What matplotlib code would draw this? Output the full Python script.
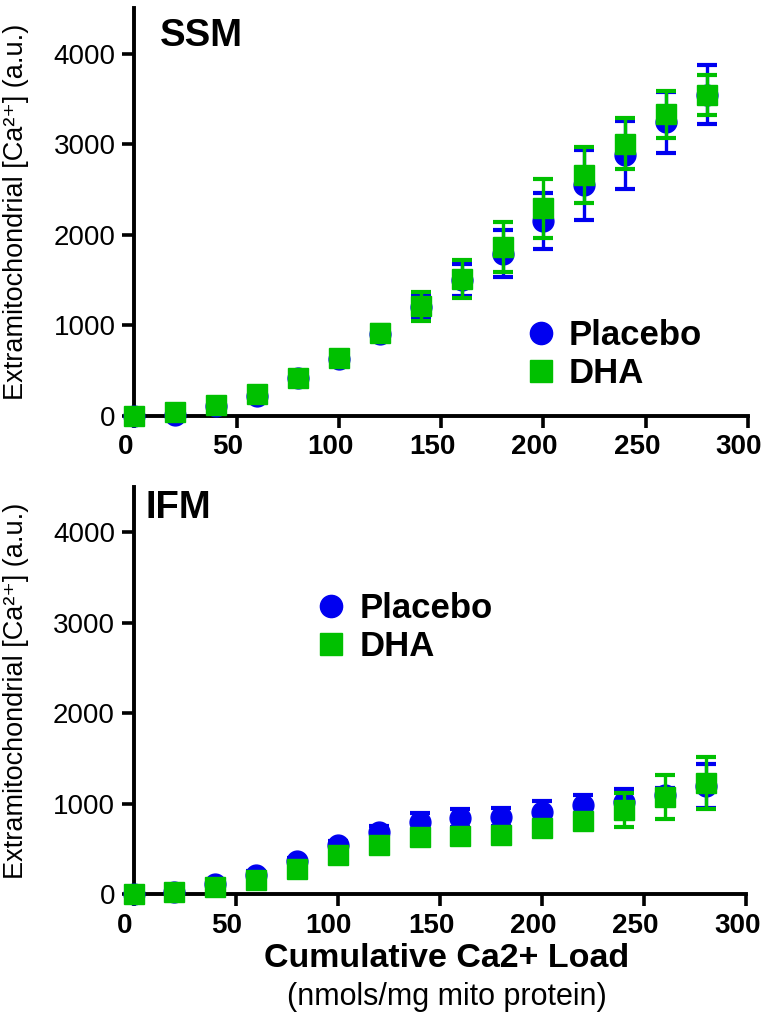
import matplotlib
matplotlib.use("Agg")
import matplotlib.pyplot as plt
import matplotlib.transforms as mtransforms
from matplotlib.lines import Line2D

# cumulative Ca2+ load (nmols/mg mito protein)
load = [0, 20, 40, 60, 80, 100, 120, 140, 160, 180, 200, 220, 240, 260, 280]

# SSM panel
ssm_placebo = [0, 10, 110, 220, 420, 630, 900, 1200, 1500, 1790, 2150, 2550, 2875, 3240, 3546]
ssm_placebo_err = [20, 30, 40, 40, 50, 60, 80, 120, 175, 255, 305, 385, 375, 340, 325]
ssm_dha = [0, 40, 120, 240, 420, 640, 910, 1210, 1513, 1861, 2291, 2661, 3004, 3328, 3544]
ssm_dha_err = [20, 30, 40, 40, 50, 60, 90, 160, 210, 276, 328, 309, 282, 258, 218]

# IFM panel
ifm_placebo = [0, 20, 110, 210, 360, 540, 690, 800, 840, 850, 910, 980, 1020, 1090, 1190]
ifm_placebo_err = [20, 20, 30, 40, 40, 50, 60, 90, 100, 100, 120, 110, 140, 80, 245]
ifm_dha = [0, 27, 72, 160, 274, 434, 541, 625, 640, 650, 728, 805, 928, 1070, 1227]
ifm_dha_err = [20, 20, 30, 30, 40, 40, 40, 50, 50, 50, 50, 60, 190, 245, 290]

panel_names = ["SSM", "IFM"]
group_names = ["Placebo", "DHA"]
x_ticks = [0, 50, 100, 150, 200, 250, 300]
y_ticks = [0, 1000, 2000, 3000, 4000]

BLUE = "#0000f0"
GREEN = "#00c000"

plt.rcParams["font.family"] = ["Liberation Sans", "DejaVu Sans"]

fig = plt.figure(figsize=(7.68, 10.18), dpi=100)
ax_top = fig.add_axes([0.175, 0.5918, 0.799, 0.400])
ax_bot = fig.add_axes([0.174, 0.1218, 0.798, 0.400])

# Prism-style labels sit a little left of their ticks
label_shift = mtransforms.ScaledTranslation(-0.09, 0, fig.dpi_scale_trans)

panels = [
    (ax_top, ssm_placebo, ssm_placebo_err, ssm_dha, ssm_dha_err),
    (ax_bot, ifm_placebo, ifm_placebo_err, ifm_dha, ifm_dha_err),
]

for i, (ax, pl, pl_err, dha, dha_err) in enumerate(panels):
    ax.errorbar(load, pl, yerr=pl_err, fmt="o", color=BLUE, ms=15,
                elinewidth=2.4, capsize=7, capthick=3, clip_on=False,
                zorder=3)
    ax.errorbar(load, dha, yerr=dha_err, fmt="s", color=GREEN, ms=14,
                elinewidth=2.4, capsize=7, capthick=3, clip_on=False,
                zorder=4)

    ax.set_xlim(0, 300)
    ax.set_ylim(0, 4500)
    ax.set_xticks(x_ticks)
    ax.set_yticks(y_ticks)
    for side in ["top", "right"]:
        ax.spines[side].set_visible(False)
    for side in ["left", "bottom"]:
        ax.spines[side].set_linewidth(2.8)
    ax.tick_params(axis="both", length=8.5, width=2.6, direction="out")
    ax.tick_params(axis="y", labelsize=20, pad=5)
    ax.tick_params(axis="x", labelsize=20, pad=5)
    for lab in ax.get_xticklabels():
        lab.set_fontweight("bold")
        lab.set_transform(lab.get_transform() + label_shift)

    ax.set_ylabel("Extramitochondrial [Ca²⁺] (a.u.)", fontsize=19.5)
    ax.yaxis.set_label_coords(-0.171, 0.5)

    handles = [
        Line2D([], [], marker="o", ls="none", color=BLUE, ms=16),
        Line2D([], [], marker="s", ls="none", color=GREEN, ms=16),
    ]
    if i == 0:
        anchor = (0.64, 0.15)
        ax.text(0.041, 0.977, panel_names[i], transform=ax.transAxes,
                fontsize=27.5, fontweight="bold", va="top", ha="left")
    else:
        anchor = (0.30, 0.655)
        ax.text(0.02, 0.993, panel_names[i], transform=ax.transAxes,
                fontsize=27.5, fontweight="bold", va="top", ha="left")
    ax.legend(handles, group_names, loc="center left", bbox_to_anchor=anchor,
              frameon=False, prop={"weight": "bold", "size": 25},
              handlelength=0.8, handletextpad=0.4, labelspacing=0.15,
              borderpad=0, borderaxespad=0)

fig.text(0.582, 0.058, "Cumulative Ca2+ Load", fontsize=24.5,
         fontweight="bold", ha="center", va="center")
fig.text(0.582, 0.021, "(nmols/mg mito protein)", fontsize=22,
         ha="center", va="center")

fig.savefig("out.png", dpi=100)
